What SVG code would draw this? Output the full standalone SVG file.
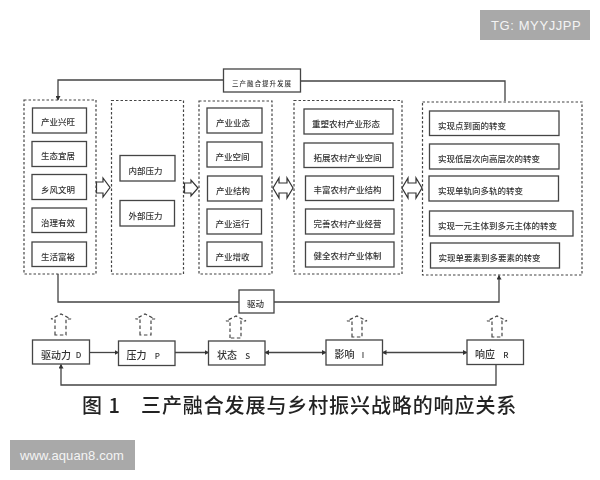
<svg xmlns="http://www.w3.org/2000/svg" width="600" height="480" viewBox="0 0 600 480">
<style>
text{font-family:"Noto Sans CJK SC","Liberation Sans",sans-serif;fill:#333;font-weight:500}
.b{fill:#fff;stroke:#444;stroke-width:1.3}
.d{fill:none;stroke:#444;stroke-width:1.2;stroke-dasharray:2.5 2}
.t{font-size:8.5px;dominant-baseline:central}
.m{font-size:10px;dominant-baseline:central}
.x{font-size:8px}
.l{fill:none;stroke:#444;stroke-width:1.3}
.ba{fill:#fff;stroke:#333;stroke-width:1.2}
.da{fill:none;stroke:#444;stroke-width:1.2;stroke-dasharray:3.5 2.5}
.wm{font-family:"Liberation Sans",sans-serif;fill:#f4f4f4;font-size:13px;dominant-baseline:central;font-weight:400}
</style>
<defs>
<marker id="a" markerWidth="5" markerHeight="5" refX="4" refY="2.5" orient="auto-start-reverse" markerUnits="userSpaceOnUse"><path d="M0 0L4.5 2.5L0 5Z" fill="#333"/></marker>
<filter id="s" x="-2%" y="-2%" width="104%" height="104%"><feGaussianBlur stdDeviation="0.35"/></filter>
</defs>
<rect width="600" height="480" fill="#fff"/>
<g filter="url(#s)">
<g id="connectors">
<path class="l" d="M223.500 80H58V100" marker-end="url(#a)"/>
<path class="l" d="M300.500 81H505V101"/>
<path class="l" d="M58 274V302H239"/>
<path class="l" d="M274 302H499V275.500" marker-end="url(#a)"/>
<path class="l" d="M89.500 352.500H118.500" marker-end="url(#a)"/>
<path class="l" d="M175 352.500H208.500" marker-end="url(#a)"/>
<path class="l" d="M265 352.500H326" marker-start="url(#a)" marker-end="url(#a)"/>
<path class="l" d="M382.500 352.500H467" marker-start="url(#a)" marker-end="url(#a)"/>
<path class="l" d="M496 364.500V385H61V364.500" marker-end="url(#a)"/>
<path class="ba" d="M96.500 182H103V178L110 187.500L103 197V193H96.500Z"/>
<path class="ba" d="M184.500 183H191V180L198 188L191 196V193H184.500Z"/>
<path class="ba" d="M273 188L279 178V183H287V178L293 188L287 198V193H279V198Z"/>
<path class="ba" d="M402 188L408 178V183H416V178L422 188L416 198V193H408V198Z"/>
<path class="da" d="M55 335V319H51L61 314L71 319H66V335Z"/>
<path class="da" d="M140 335V319H135.500L145 314L155 319H151V335Z"/>
<path class="da" d="M230 338V321H226L236 316L246 321H241V338Z"/>
<path class="da" d="M352 337V321H347L357 316L367 321H362V337Z"/>
<path class="da" d="M492 337V321H487L497 316L507 321H502V337Z"/>
</g>
<g id="group1">
<rect class="d" x="24" y="100" width="72" height="174"/>
<rect class="b" x="32.500" y="108" width="54" height="25"/><text class="t" x="41" y="121">产业兴旺</text>
<rect class="b" x="32" y="141.500" width="54.500" height="25"/><text class="t" x="41" y="155">生态宜居</text>
<rect class="b" x="32" y="174.500" width="54.500" height="25"/><text class="t" x="41" y="188.500">乡风文明</text>
<rect class="b" x="32" y="208" width="54.500" height="24.500"/><text class="t" x="41" y="221.500">治理有效</text>
<rect class="b" x="32" y="242" width="54.500" height="24.500"/><text class="t" x="41" y="255.500">生活富裕</text>
</g>
<g id="group2">
<rect class="d" x="111.500" y="100.500" width="72" height="173.500"/>
<rect class="b" x="120" y="155.500" width="55" height="25.500"/><text class="t" x="128.500" y="169.500">内部压力</text>
<rect class="b" x="120" y="200.500" width="54.500" height="25.500"/><text class="t" x="128.500" y="214.500">外部压力</text>
</g>
<g id="group3">
<rect class="d" x="199" y="101" width="73" height="173"/>
<rect class="b" x="207" y="108" width="55" height="25"/><text class="t" x="216" y="122">产业业态</text>
<rect class="b" x="207" y="142" width="55" height="25"/><text class="t" x="215.500" y="155.500">产业空间</text>
<rect class="b" x="207.500" y="176" width="54.500" height="25"/><text class="t" x="216" y="189.500">产业结构</text>
<rect class="b" x="207" y="209" width="54.500" height="25"/><text class="t" x="215.500" y="222.500">产业运行</text>
<rect class="b" x="207" y="242" width="55" height="24.500"/><text class="t" x="215.500" y="255.500">产业增收</text>
</g>
<g id="group4">
<rect class="d" x="294" y="100.500" width="108" height="173.500"/>
<rect class="b" x="304" y="109" width="89" height="25"/><text class="t" x="312" y="122.500">重塑农村产业形态</text>
<rect class="b" x="304" y="143" width="89" height="24.500"/><text class="t" x="313.500" y="156.500">拓展农村产业空间</text>
<rect class="b" x="305.500" y="176" width="88" height="24.500"/><text class="t" x="313.500" y="189">丰富农村产业结构</text>
<rect class="b" x="305.500" y="209" width="88.500" height="25"/><text class="t" x="313.500" y="222.500">完善农村产业经营</text>
<rect class="b" x="305.500" y="242" width="88.500" height="25"/><text class="t" x="313.500" y="255">健全农村产业体制</text>
</g>
<g id="group5">
<rect class="d" x="422.500" y="102" width="159.500" height="173"/>
<rect class="b" x="429.500" y="111" width="129.500" height="24.500"/><text class="t" x="438" y="124.500">实现点到面的转变</text>
<rect class="b" x="429.500" y="144" width="129.500" height="25"/><text class="t" x="438" y="157.500">实现低层次向高层次的转变</text>
<rect class="b" x="429" y="176" width="129.500" height="25"/><text class="t" x="438" y="189.500">实现单轨向多轨的转变</text>
<rect class="b" x="429.500" y="211" width="143.500" height="25"/><text class="t" x="438" y="224.500">实现一元主体到多元主体的转变</text>
<rect class="b" x="430.500" y="243" width="129" height="25"/><text class="t" x="438.500" y="257">实现单要素到多要素的转变</text>
</g>
<g id="top-node"><rect class="b" x="223.500" y="69" width="77" height="23"/><text x="232" y="82.500" style="font-size:6.500px;letter-spacing:1px;dominant-baseline:central">三产融合提升发展</text></g>
<g id="drive"><rect class="b" x="239" y="290" width="35" height="23"/><text class="t" x="247" y="303">驱动</text></g>
<g id="D"><rect class="b" x="32.500" y="340" width="57" height="24"/><text class="m" x="41" y="354">驱动力<tspan class="x" x="74"> D</tspan></text></g>
<g id="P"><rect class="b" x="118.500" y="341" width="56.500" height="24.500"/><text class="m" x="126.500" y="354.500">压力<tspan class="x" x="153"> P</tspan></text></g>
<g id="S"><rect class="b" x="208.500" y="341" width="56.500" height="24"/><text class="m" x="217" y="354.500">状态<tspan class="x" x="243.500"> S</tspan></text></g>
<g id="I"><rect class="b" x="326" y="340" width="56.500" height="25"/><text class="m" x="334.500" y="353.500">影响<tspan class="x" x="360"> I</tspan></text></g>
<g id="R"><rect class="b" x="467" y="340" width="56.500" height="24.500"/><text class="m" x="475" y="353.500">响应<tspan class="x" x="501.500"> R</tspan></text></g>
<text x="82" y="413" style="font-size:20px;fill:#222;word-spacing:2px">图 1</text>
<text x="141" y="413" style="font-size:20px;letter-spacing:0.9px;fill:#222">三产融合发展与乡村振兴战略的响应关系</text>
</g>
<g id="wm1"><rect x="480" y="10" width="110" height="30" fill="#a9a9a9"/><text class="wm" x="491" y="25" style="letter-spacing:0.6px">TG: MYYJJPP</text></g>
<g id="wm2"><rect x="10" y="440" width="125" height="30" fill="#a9a9a9"/><text class="wm" x="20" y="455" style="letter-spacing:0.1px">www.aquan8.com</text></g>
</svg>
